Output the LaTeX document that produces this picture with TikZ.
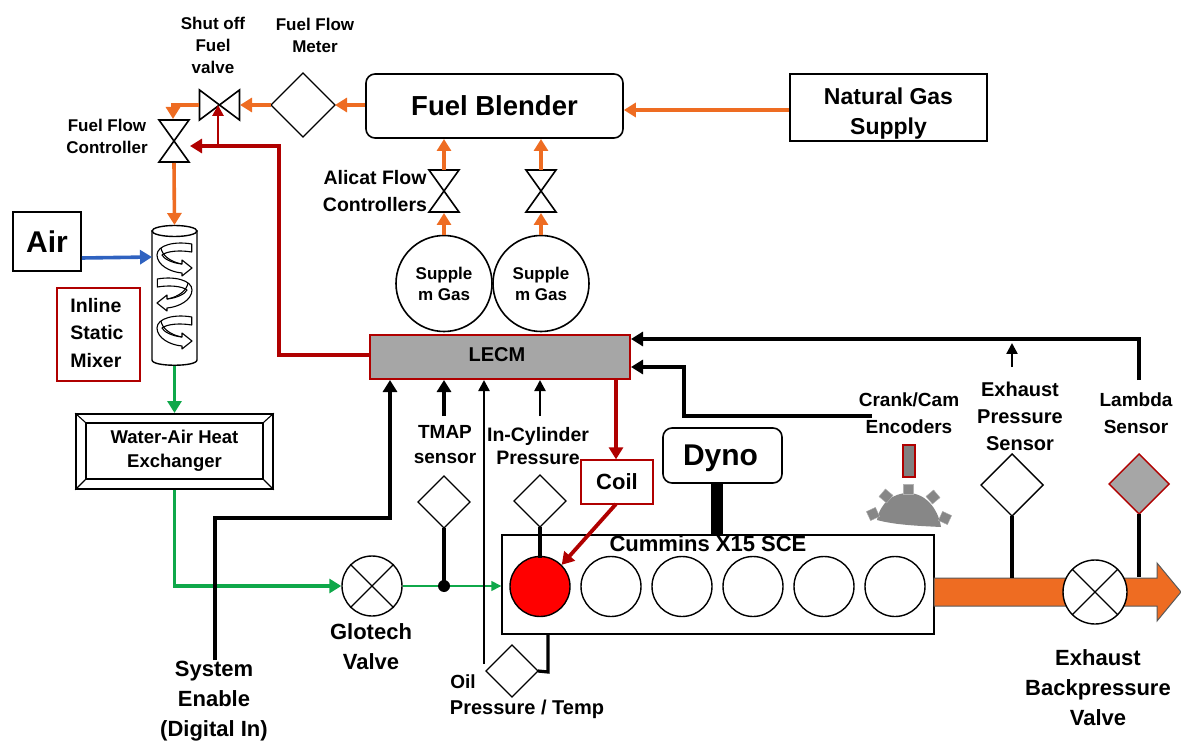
\documentclass[tikz,border=0pt]{standalone}
\usepackage{fontspec}
\setmainfont{Liberation Sans}
\usetikzlibrary{arrows.meta,shapes.geometric,calc}
\definecolor{fuelor}{HTML}{EE6C22}
\definecolor{ctrlred}{HTML}{B00000}
\definecolor{airblue}{HTML}{2F62C0}
\definecolor{mixgreen}{HTML}{0FA84A}
\definecolor{panelgray}{HTML}{A6A6A6}
\tikzset{
  x=1pt,y=-1pt,
  lbl/.style={font=\bfseries\fontsize{#1}{#1}\selectfont,align=center,inner sep=0pt},
  lbl/.default=20,
  ln/.style={line width=1.6pt,draw=black,line join=miter},
  sensor/.style={diamond,draw=black,line width=1.4pt,fill=white,inner sep=0pt,outer sep=0pt,minimum width=#1,minimum height=#1,aspect=1},
  cyl/.style={circle,draw=black,line width=1.4pt,fill=white,minimum size=60,inner sep=0pt},
  fuelpipe/.style={draw=fuelor,line width=3.6pt,-{Triangle[length=12pt,width=14pt]}},
  ctrlpipe/.style={draw=ctrlred,line width=3.8pt,-{Triangle[length=12pt,width=14pt]}},
  sigpipe/.style={draw=black,line width=3.8pt,-{Triangle[length=12pt,width=14pt]}},
  sigthin/.style={draw=black,line width=2.4pt,-{Triangle[length=11pt,width=11pt]}},
  greenpipe/.style={draw=mixgreen,line width=3.6pt,-{Triangle[length=12pt,width=14pt]}},
  stem/.style={draw=black,line width=3.2pt},
  plate/.style={draw=black,line width=1.6pt,fill=white,rounded corners=9pt},
  boxed/.style={draw=black,line width=1.6pt,fill=white},
  redbox/.style={draw=ctrlred,line width=1.3pt,fill=white},
  swirl/.style={draw=black,line width=1.1pt,fill=white,line join=round},
}
\newcommand{\bowtieH}[3]{% cx cy name
  \draw[ln,fill=white] (#1-20,#2-15) -- (#1+20,#2+15) -- (#1+20,#2-15) -- (#1-20,#2+15) -- cycle;
  \coordinate (#3) at (#1,#2);
}
\newcommand{\bowtieV}[3]{%
  \draw[ln,fill=white] (#1-15,#2-21) -- (#1+15,#2-21) -- (#1-15,#2+21) -- (#1+15,#2+21) -- cycle;
  \coordinate (#3) at (#1,#2);
}
\newcommand{\swirlshape}{%
   \draw[swirl] (16.7,-14) .. controls (0,-17) and (-18,-13) .. (-18,-3)
     .. controls (-18,7) and (-5,14) .. (7,15) -- (7,18) -- (17,10) -- (7,2) -- (7,6)
     .. controls (-3,5) and (-11,1) .. (-13,-3)
     .. controls (-8,-7) and (5,-8) .. (16.7,-6) -- cycle;
   \draw[swirl,fill=none] (-14,-10) .. controls (-13,-3) and (-5,4) .. (7,6);
}
\begin{document}
\begin{tikzpicture}
\useasboundingbox (0,0) rectangle (1181,743);
% --- boxes
\node[plate,minimum width=257,minimum height=64,lbl=27.5] (blender) at (494.5,106) {Fuel Blender};
\node[boxed,minimum width=197,minimum height=67,lbl=23] (natgas) at (888.5,107.5) {};
\node[lbl=23] (natgastxt) at (888.5,114) {Natural Gas\\[7pt]Supply};
\node[sensor=64] (meter) at (303,105) {};
\bowtieH{219.5}{105}{shutoff}
\bowtieV{174}{141}{ffc}
\bowtieV{444}{191}{ali}
\bowtieV{541}{191}{alj}
\node[boxed,minimum width=68,minimum height=59,lbl=30] (air) at (47,241.5) {Air};
\node[redbox,minimum width=83,minimum height=93,lbl=19.5,align=left] (mixbox) at (98.5,334.5) {};
\node[lbl=19.5,align=left] (mixtxt) at (97,333) {Inline\\[8pt]Static\\[8pt]Mixer};
% mixer
\draw[line width=1.4pt,fill=white] (152,231) -- (152,360) .. controls (152,367) and (197,367) .. (197,360) -- (197,231) -- cycle;
\draw[line width=1.4pt,fill=white] (174.5,231) ellipse [x radius=22.5,y radius=5.5];
\coordinate (mixT) at (174.5,225);
\coordinate (mixL) at (152,257);
\coordinate (mixB) at (174.5,366);
\begin{scope}[shift={(175,258)}]\swirlshape\end{scope}
\begin{scope}[shift={(174,293)},xscale=-1]\swirlshape\end{scope}
\begin{scope}[shift={(175,331)}]\swirlshape\end{scope}
% heat exchanger
\node[boxed,minimum width=197,minimum height=75] (hxo) at (174.5,451.5) {};
\node[draw=black,line width=1.6pt,minimum width=177,minimum height=56,lbl=18.5,inner sep=0pt] (hx) at (174.5,451) {Water-Air Heat\\[6pt]Exchanger};
\foreach \a/\b in {hxo.north west/hx.north west,hxo.north east/hx.north east,hxo.south west/hx.south west,hxo.south east/hx.south east}
  \draw[line width=1.1pt] (\a) -- (\b);
% gas bottles
\node[circle,draw=black,line width=1.6pt,minimum size=96,inner sep=0pt,lbl=17] (gasa) at (444,283.5) {Supple\\[4pt]m Gas};
\node[circle,draw=black,line width=1.6pt,minimum size=96,inner sep=0pt,lbl=17] (gasb) at (541,283.5) {Supple\\[4pt]m Gas};
% LECM
\node[draw=ctrlred,line width=1.3pt,fill=panelgray,minimum width=260,minimum height=44,lbl=20] (lecm) at (500,357) {};
\node[lbl=20] (lecmtxt) at (497,355) {LECM};
% engine
\node[draw=black,line width=1.4pt,fill=white,minimum width=432,minimum height=99] (engine) at (718,584.5) {};
\node[cyl,fill=red] (c1) at (540,586.5) {};
\node[cyl] (c2) at (611,586.5) {};
\node[cyl] (c3) at (682,586.5) {};
\node[cyl] (c4) at (753,586.5) {};
\node[cyl] (c5) at (824,586.5) {};
\node[cyl] (c6) at (895,586.5) {};
\node[lbl=22] (enginetxt) at (708,544) {Cummins X15 SCE};
\node[plate,minimum width=119,minimum height=55] (dyno) at (722.5,455.5) {};
\node[lbl=30] (dynotxt) at (720.5,458) {Dyno};
\node[redbox,minimum width=72,minimum height=44,lbl=22] (coil) at (617,482) {Coil};
% sensors
\node[sensor=52] (tmap) at (444,502) {};
\node[sensor=52] (incyl) at (540,501) {};
\node[sensor=52] (oil) at (512,671) {};
\node[sensor=62] (exh) at (1012,485) {};
\node[sensor=60,draw=ctrlred,fill=panelgray] (lam) at (1139,484) {};
% exhaust
\fill[fuelor,draw=black!65,line width=1pt] (934,578) -- (1157,578) -- (1157,563) -- (1181,592) -- (1157,621) -- (1157,606) -- (934,606) -- cycle;
\node[circle,draw=black,line width=1.4pt,fill=white,minimum size=64,inner sep=0pt] (bpv) at (1095,592) {};
\draw[line width=1.2pt] (bpv.45) -- (bpv.225) (bpv.135) -- (bpv.315);
\node[circle,draw=black,line width=1.4pt,fill=white,minimum size=60,inner sep=0pt] (glo) at (372,586) {};
\draw[line width=1.2pt] (glo.45) -- (glo.225) (glo.135) -- (glo.315);
% encoders
\node[draw=ctrlred,line width=1.3pt,fill=black!50,minimum width=12,minimum height=32,inner sep=0pt] (enc) at (909,461) {};
\fill[black!47] (877,520) .. controls (880,503) and (893,493) .. (908,493) .. controls (925,493) and (938,508) .. (941,527) .. controls (920,526) and (895,525) .. (877,520) -- cycle;
\begin{scope}[draw=black!30,fill=black!47,line width=.4pt]
\filldraw[rotate around={0:(908,489)}] (903,484) rectangle (913,494);
\filldraw[rotate around={-40:(886,496)}] (881,491) rectangle (891,501);
\filldraw[rotate around={40:(933,497)}] (928,492) rectangle (938,502);
\filldraw[rotate around={-65:(873,514)}] (868,509) rectangle (878,519);
\filldraw[rotate around={65:(945,518)}] (940,513) rectangle (950,523);
\end{scope}
% --- orange
\draw[fuelpipe] (natgas.west|-0,110) -- (blender.east|-0,110);
\draw[fuelpipe] (blender.west|-0,105) -- (meter.east);
\draw[fuelpipe] (meter.west) -- (240,105);
\draw[fuelpipe] (199,105) -- (173,105) -- (173,119);
\draw[fuelpipe] (174,163) -- (mixT);
\draw[fuelpipe] (444,170) -- (444,139);
\draw[fuelpipe] (541,170) -- (541,139);
\draw[fuelpipe] (gasa.north) -- (444,213);
\draw[fuelpipe] (gasb.north) -- (541,213);
% --- blue
\draw[draw=airblue,line width=3.6pt,-{Triangle[length=12pt,width=14pt]}] (air.east|-0,258) -- (mixL);
% --- green
\draw[greenpipe] (mixB) -- (174.5,413);
\draw[greenpipe] (hxo.south) -- (174.5,586) -- (glo.west);
\draw[draw=mixgreen,line width=1.4pt,-{Triangle[length=10pt,width=10pt]}] (glo.east) -- (engine.west|-0,586);
% --- red
\draw[ctrlpipe] (lecm.west|-0,355) -- (279,355) -- (279,146) -- (190,146);
\draw[ctrlpipe,line width=2.8pt,-{Triangle[length=11pt,width=11pt]}] (218,146) -- (218,105);
\draw[ctrlpipe] (616,379) -- (coil.north-|616,0);
\draw[ctrlpipe] (616,504) -- (c1.45);
% --- black
\draw[sigpipe] (215,660) -- (215,518) -- (390,518) -- (390,380);
\draw[sigpipe] (444,416) -- (444,380);
\draw[sigthin] (540,416) -- (540,380);
\draw[sigthin] (484,664) -- (484,380);
\draw[sigpipe] (1139,380) -- (1139,339) -- (631,339);
\draw[sigpipe] (872,416) -- (684,416) -- (684,367) -- (631,367);
\draw[sigthin] (1012,367) -- (1012,343);
% sensor stems
\draw[stem] (tmap.south) -- (444,586);
\fill (444,586) circle (6);
\draw[stem] (incyl.south) -- (540,558);
\draw[stem] (oil.east) -- (548,672) -- (548,634);
\draw[stem] (exh.south) -- (1012,578);
\draw[stem] (lam.south) -- (1139,577);
\draw[draw=black,line width=12pt] (717,483) -- (717,535);
% --- labels
\node[lbl=17] (l1) at (213,45) {Shut off\\[5pt]Fuel\\[5pt]valve};
\node[lbl=17] (l2) at (315,35) {Fuel Flow\\[5pt]Meter};
\node[lbl=17] (l3) at (107,136) {Fuel Flow\\[5pt]Controller};
\node[lbl=19.5] (l4) at (375,191) {Alicat Flow\\[7pt]Controllers};
\node[lbl=19] (l5) at (445,445) {TMAP\\[6pt]sensor};
\node[lbl=19.5] (l6) at (538,446) {In-Cylinder\\[4pt]Pressure};
\node[lbl=22] (l7) at (371,647) {Glotech\\[8pt]Valve};
\node[lbl=22] (l8) at (214,701) {System\\[8pt]Enable\\[8pt](Digital In)};
\node[lbl=19] (l9) at (463,682) {Oil};
\node[lbl=20] (l10) at (527,709) {Pressure / Temp};
\node[lbl=19] (l11) at (909,413) {Crank/Cam\\[8pt]Encoders};
\node[lbl=20] (l12) at (1020,416) {Exhaust\\[7pt]Pressure\\[7pt]Sensor};
\node[lbl=19] (l13) at (1136,413) {Lambda\\[8pt]Sensor};
\node[lbl=22] (l14) at (1098,688) {Exhaust\\[8pt]Backpressure\\[8pt]Valve};
\end{tikzpicture}
\end{document}
